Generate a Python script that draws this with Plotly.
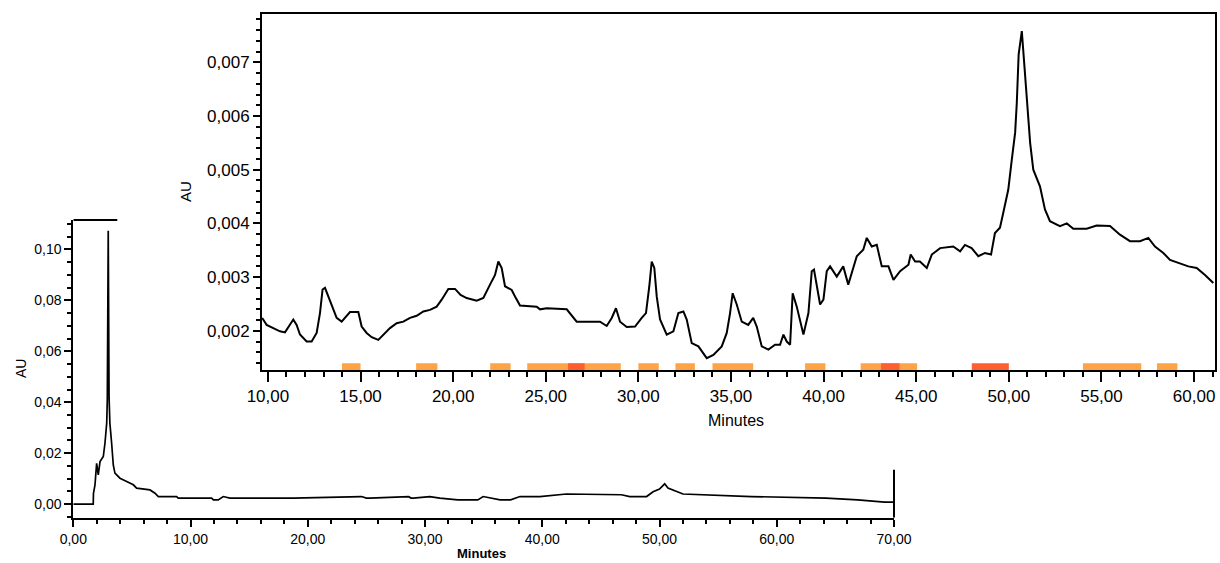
import plotly.graph_objects as go

W, H = 1220, 563

# ---- detail chromatogram, 10-61 min ----
detail_min = [9.69, 9.93, 10.65, 10.92, 11.37, 11.55, 11.73, 12.09, 12.36, 12.63, 12.81, 12.95,
              13.08, 13.26, 13.44, 13.71, 13.98, 14.25, 14.43, 14.88, 15.06, 15.33, 15.6, 15.96,
              16.23, 16.59, 16.95, 17.31, 17.67, 18.03, 18.39, 18.75, 19.11, 19.38, 19.74, 20.1,
              20.4, 20.73, 21.27, 21.63, 21.99, 22.26, 22.44, 22.62, 22.8, 23.16, 23.34, 23.61,
              24.51, 24.69, 25.05, 26.13, 26.67, 27.21, 27.93, 28.29, 28.56, 28.79, 29.01, 29.37,
              29.82, 30.18, 30.41, 30.59, 30.72, 30.86, 30.99, 31.17, 31.53, 31.89, 32.16, 32.43,
              32.61, 32.88, 33.24, 33.69, 34.05, 34.5, 34.77, 34.95, 35.09, 35.31, 35.58, 35.93,
              36.2, 36.39, 36.66, 37.02, 37.38, 37.65, 37.83, 38.01, 38.19, 38.33, 38.55, 38.91,
              39.18, 39.36, 39.48, 39.81, 39.99, 40.17, 40.35, 40.71, 41.06, 41.33, 41.6, 41.79,
              42.14, 42.33, 42.6, 42.87, 43.14, 43.5, 43.77, 44.13, 44.58, 44.7, 44.94, 45.2,
              45.57, 45.84, 46.29, 47.0, 47.37, 47.63, 47.99, 48.35, 48.71, 49.04, 49.25, 49.52,
              49.7, 49.97, 50.16, 50.34, 50.43, 50.53, 50.7, 50.79, 50.97, 51.15, 51.32, 51.68,
              51.95, 52.22, 52.76, 53.13, 53.48, 54.2, 54.74, 55.46, 56.0, 56.54, 57.08, 57.53,
              57.89, 58.34, 58.7, 59.24, 59.69, 60.14, 60.59, 61.04]
detail_au = [0.00224, 0.00211, 0.00199, 0.00197, 0.00221, 0.00211, 0.00193, 0.00180, 0.00180, 0.00196,
             0.00233, 0.00277, 0.00280, 0.00264, 0.00245, 0.00224, 0.00217, 0.00227, 0.00235, 0.00235,
             0.00208, 0.00196, 0.00188, 0.00183, 0.00193, 0.00205, 0.00214, 0.00217, 0.00224, 0.00228,
             0.00236, 0.00239, 0.00245, 0.00258, 0.00278, 0.00278, 0.00267, 0.00261, 0.00256, 0.00261,
             0.00286, 0.00304, 0.00329, 0.00317, 0.00283, 0.00276, 0.00264, 0.00247, 0.00245, 0.00240,
             0.00242, 0.00240, 0.00217, 0.00217, 0.00217, 0.00209, 0.00224, 0.00242, 0.00217, 0.00207,
             0.00208, 0.00224, 0.00233, 0.00283, 0.00329, 0.00317, 0.00264, 0.00221, 0.00193, 0.00199,
             0.00233, 0.00236, 0.00221, 0.00177, 0.00171, 0.00149, 0.00155, 0.00171, 0.00196, 0.00233,
             0.00270, 0.00249, 0.00217, 0.00211, 0.00224, 0.00208, 0.00171, 0.00165, 0.00174, 0.00174,
             0.00193, 0.00180, 0.00174, 0.00270, 0.00245, 0.00193, 0.00233, 0.00311, 0.00314, 0.00249,
             0.00258, 0.00311, 0.00320, 0.00301, 0.00320, 0.00286, 0.00320, 0.00339, 0.00351, 0.00373,
             0.00357, 0.00360, 0.00320, 0.00320, 0.00295, 0.00311, 0.00323, 0.00342, 0.00329, 0.00329,
             0.00317, 0.00342, 0.00354, 0.00357, 0.00348, 0.00360, 0.00354, 0.00339, 0.00345, 0.00342,
             0.00382, 0.00392, 0.00420, 0.00463, 0.00519, 0.00569, 0.00625, 0.00715, 0.00758, 0.00718,
             0.00631, 0.00550, 0.00500, 0.00469, 0.00426, 0.00404, 0.00395, 0.00400, 0.00390, 0.00390,
             0.00396, 0.00395, 0.00379, 0.00367, 0.00367, 0.00373, 0.00357, 0.00345, 0.00332, 0.00326,
             0.00320, 0.00317, 0.00304, 0.00289]

# fraction windows marked under the detail trace (start, end, kind)
frac_start = [14.0, 18.0, 22.0, 24.0, 30.0, 32.0, 34.0, 39.0, 42.0, 54.0, 58.0, 26.2, 43.1, 48.0]
frac_end = [15.0, 19.15, 23.1, 29.05, 31.1, 33.05, 36.2, 40.1, 45.05, 57.15, 59.1, 27.1, 44.1, 50.0]
frac_kind = ["a", "a", "a", "a", "a", "a", "a", "a", "a", "a", "a", "b", "b", "b"]

# ---- full chromatogram, 0-70 min ----
full_min = [0.0, 1.7, 1.72, 1.85, 1.99, 2.13, 2.28, 2.56, 2.7, 2.85, 2.9, 2.98, 3.05, 3.12, 3.27,
            3.41, 3.55, 3.98, 4.55, 5.12, 5.4, 6.54, 6.97, 7.25, 8.81, 8.95, 11.8, 11.95, 12.36,
            12.79, 13.36, 18.76, 24.58, 25.0, 25.3, 28.6, 28.8, 29.0, 30.4, 31.0, 31.26, 32.8,
            34.5, 34.96, 35.5, 36.4, 37.3, 38.1, 39.8, 42.06, 46.75, 47.46, 48.9, 49.45, 50.0,
            50.44, 50.72, 51.15, 51.58, 52.0, 57.83, 64.2, 66.9, 69.2, 70.0]
full_au = [0.0, 0.0, 0.0043, 0.0076, 0.016, 0.0115, 0.0167, 0.0187, 0.0239, 0.0318, 0.041, 0.1073,
           0.042, 0.0318, 0.0239, 0.0154, 0.0122, 0.0102, 0.0089, 0.0076, 0.0063, 0.0056, 0.0043,
           0.003, 0.003, 0.0024, 0.0024, 0.0017, 0.0017, 0.003, 0.0024, 0.0024, 0.003, 0.0024,
           0.0024, 0.003, 0.0024, 0.0024, 0.003, 0.0024, 0.0024, 0.0017, 0.0017, 0.003, 0.0024,
           0.0017, 0.0017, 0.003, 0.003, 0.004, 0.0037, 0.003, 0.003, 0.0049, 0.0059, 0.008,
           0.0063, 0.0056, 0.0049, 0.004, 0.003, 0.0024, 0.0017, 0.0008, 0.0008]

# tick values for both panels
detail_xticks = [10, 15, 20, 25, 30, 35, 40, 45, 50, 55, 60]
detail_yticks = [0.002, 0.003, 0.004, 0.005, 0.006, 0.007]
full_xticks = [0, 10, 20, 30, 40, 50, 60, 70]
full_yticks = [0.0, 0.02, 0.04, 0.06, 0.08, 0.10]


def px_x(p):
    return p / W


def px_y(p):
    return 1 - p / H


FONT = "Liberation Sans, Arial, sans-serif"
FRAC_COLORS = {"a": "#FFA347", "b": "#FF5F2E"}

fig = go.Figure()

fig.add_trace(go.Scatter(x=full_min, y=full_au, mode="lines", xaxis="x2", yaxis="y2",
                         line=dict(color="black", width=1.7), hoverinfo="skip"))
fig.add_trace(go.Scatter(x=detail_min, y=detail_au, mode="lines", xaxis="x", yaxis="y",
                         line=dict(color="black", width=2), hoverinfo="skip"))

shapes = []
for s, e, k in zip(frac_start, frac_end, frac_kind):
    shapes.append(dict(type="rect", xref="x", yref="y domain", x0=s, x1=e, y0=0.0, y1=0.019,
                       fillcolor=FRAC_COLORS[k], line=dict(width=0), layer="below"))

# partial frame lines of the full chromatogram (rest sits behind the detail panel)
shapes.append(dict(type="line", xref="x2", yref="y2 domain", x0=0, x1=3.75, y0=1, y1=1,
                   line=dict(color="black", width=2)))
shapes.append(dict(type="line", xref="x2 domain", yref="y2", x0=1, x1=1, y0=-0.0053, y1=0.0135,
                   line=dict(color="black", width=2)))

axis_common = dict(showgrid=False, zeroline=False, showline=True, linecolor="black",
                   ticks="outside", tickcolor="black", automargin=False)

fig.update_layout(
    template="none",
    width=W, height=H,
    margin=dict(l=0, r=0, t=0, b=0, pad=0),
    paper_bgcolor="white", plot_bgcolor="rgba(0,0,0,0)",
    showlegend=False,
    separators=", ",
    font=dict(family=FONT, color="black"),
    xaxis=dict(**axis_common, domain=[px_x(262), px_x(1215)], range=[9.68, 61.13],
               tickvals=detail_xticks, tickformat=".2f", ticklen=10, tickwidth=2, linewidth=2,
               mirror=True, tickfont=dict(size=17),
               minor=dict(dtick=1, ticks="outside", ticklen=5, tickwidth=2, tickcolor="black"),
               anchor="y"),
    yaxis=dict(**axis_common, domain=[px_y(370), px_y(14)], range=[0.00127, 0.0079],
               tickvals=detail_yticks, tickformat=".3f", ticklen=7, tickwidth=2, linewidth=2,
               mirror=True, tickfont=dict(size=17),
               minor=dict(dtick=0.0002, ticks="outside", ticklen=4, tickwidth=2, tickcolor="black"),
               anchor="x"),
    xaxis2=dict(**axis_common, domain=[px_x(73.3), px_x(894)], range=[0, 70],
                tickvals=full_xticks, tickformat=".2f", ticklen=7, tickwidth=1.5, linewidth=2,
                tickfont=dict(size=14),
                minor=dict(dtick=2, ticks="outside", ticklen=4, tickwidth=1.5, tickcolor="black"),
                anchor="y2"),
    yaxis2=dict(**axis_common, domain=[px_y(517.7), px_y(220)], range=[-0.0053, 0.1115],
                tickvals=full_yticks, tickformat=".2f", ticklen=7, tickwidth=1.5, linewidth=2,
                tickfont=dict(size=14),
                minor=dict(dtick=0.005, ticks="outside", ticklen=4, tickwidth=1.5, tickcolor="black"),
                anchor="x2"),
    shapes=shapes,
    annotations=[
        dict(text="AU", x=px_x(185), y=px_y(192), xref="paper", yref="paper", showarrow=False,
             textangle=-90, font=dict(size=15), xanchor="center", yanchor="middle"),
        dict(text="Minutes", x=px_x(736), y=px_y(420), xref="paper", yref="paper", showarrow=False,
             font=dict(size=16), xanchor="center", yanchor="middle"),
        dict(text="AU", x=px_x(21), y=px_y(369), xref="paper", yref="paper", showarrow=False,
             textangle=-90, font=dict(size=14), xanchor="center", yanchor="middle"),
        dict(text="<b>Minutes</b>", x=px_x(481), y=px_y(563), xref="paper", yref="paper",
             showarrow=False, font=dict(size=13), xanchor="center", yanchor="bottom"),
    ],
)

fig.write_html("out.html")
